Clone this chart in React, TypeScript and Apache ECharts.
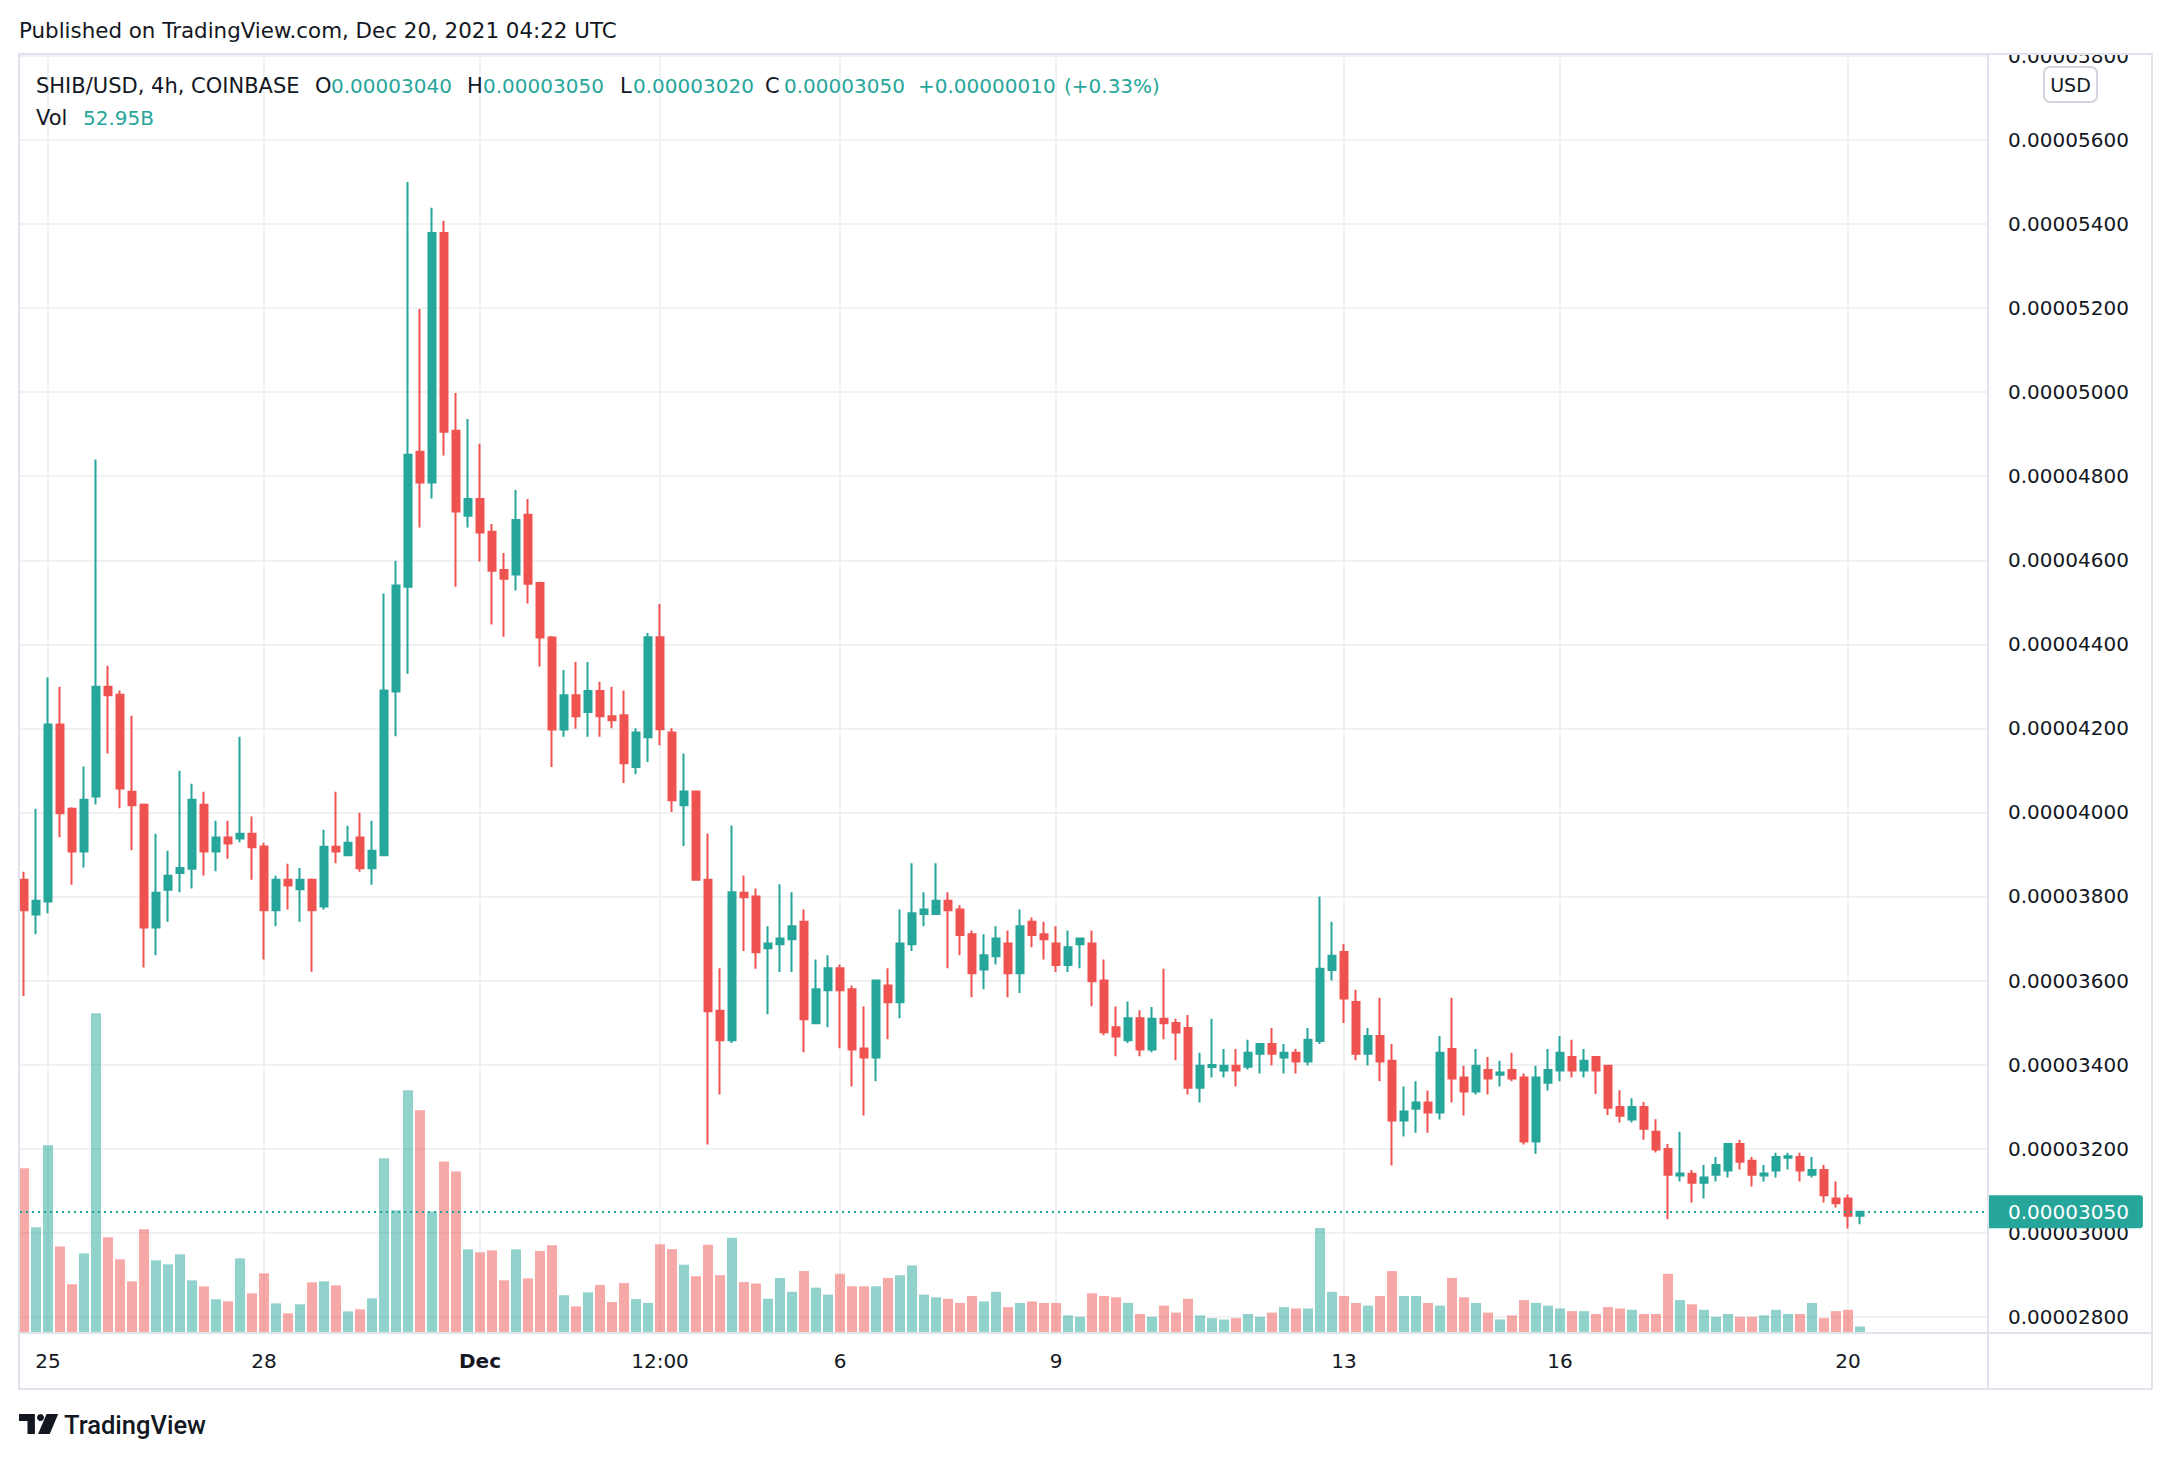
import React, { useEffect, useRef } from 'react';
import * as echarts from 'echarts';

// ---------- data (prices in units of 1e-8 USD, volume in billions) ----------
const PUBLISHED = 'Published on TradingView.com, Dec 20, 2021 04:22 UTC';
const SYMBOL = 'SHIB/USD, 4h, COINBASE';
const CURRENCY = 'USD';

const OPEN = [
  3840, 3757, 3788, 4209, 4009, 3907, 4038, 4299, 4280, 4049,
  4018, 3726, 3816, 3856, 3866, 4018, 3907, 3940, 3938, 3949,
  3919, 3767, 3840, 3817, 3840, 3776, 3918, 3898, 3940, 3867,
  3898, 4288, 4537, 4858, 4785, 5379, 4908, 4706, 4746, 4668,
  4577, 4566, 4708, 4546, 4416, 4197, 4279, 4239, 4289, 4229,
  4231, 4108, 4179, 4417, 4190, 4017, 4050, 3840, 3528, 3458,
  3809, 3800, 3677, 3686, 3698, 3740, 3498, 3577, 3629, 3579,
  3438, 3417, 3588, 3548, 3686, 3758, 3758, 3790, 3769, 3710,
  3626, 3658, 3688, 3617, 3740, 3710, 3688, 3637, 3686, 3688,
  3600, 3489, 3458, 3510, 3436, 3509, 3499, 3487, 3345, 3394,
  3386, 3397, 3395, 3426, 3449, 3417, 3428, 3407, 3456, 3625,
  3668, 3549, 3426, 3468, 3409, 3267, 3295, 3310, 3286, 3437,
  3369, 3336, 3387, 3376, 3387, 3369, 3217, 3357, 3386, 3418,
  3386, 3418, 3397, 3299, 3269, 3299, 3240, 3199, 3136, 3140,
  3119, 3138, 3148, 3211, 3171, 3136, 3148, 3178, 3180, 3138,
  3149, 3081, 3081, 3040,
];
const HIGH = [
  3859, 4009, 4321, 4299, 4012, 4109, 4840, 4349, 4290, 4230,
  4021, 3949, 3909, 4099, 4068, 4049, 3980, 3980, 4180, 3990,
  3928, 3849, 3878, 3868, 3843, 3959, 4049, 3968, 3999, 3980,
  4521, 4599, 5500, 5198, 5439, 5408, 4998, 4936, 4877, 4686,
  4617, 4767, 4746, 4549, 4420, 4339, 4358, 4358, 4311, 4299,
  4290, 4200, 4427, 4496, 4200, 4140, 4052, 3950, 3629, 3969,
  3850, 3819, 3729, 3829, 3810, 3769, 3650, 3660, 3638, 3588,
  3538, 3602, 3629, 3769, 3879, 3810, 3879, 3810, 3779, 3719,
  3710, 3729, 3719, 3769, 3750, 3740, 3729, 3719, 3702, 3719,
  3650, 3538, 3550, 3529, 3537, 3628, 3509, 3518, 3428, 3509,
  3437, 3437, 3459, 3451, 3487, 3449, 3437, 3487, 3800, 3740,
  3687, 3578, 3487, 3559, 3449, 3348, 3360, 3338, 3468, 3559,
  3397, 3437, 3418, 3409, 3428, 3379, 3397, 3437, 3468, 3459,
  3437, 3420, 3399, 3339, 3320, 3311, 3270, 3211, 3240, 3149,
  3161, 3180, 3213, 3221, 3180, 3161, 3190, 3190, 3190, 3180,
  3161, 3122, 3091, 3050,
];
const LOW = [
  3563, 3710, 3760, 3941, 3828, 3869, 4019, 4140, 4010, 3910,
  3631, 3660, 3740, 3810, 3819, 3850, 3860, 3890, 3929, 3840,
  3650, 3729, 3769, 3740, 3621, 3769, 3879, 3896, 3859, 3828,
  3896, 4181, 4330, 4678, 4747, 4849, 4537, 4678, 4597, 4447,
  4418, 4528, 4497, 4347, 4108, 4180, 4199, 4180, 4180, 4200,
  4070, 4091, 4120, 4160, 4001, 3920, 3838, 3210, 3329, 3451,
  3670, 3628, 3520, 3620, 3620, 3429, 3496, 3489, 3439, 3348,
  3279, 3360, 3460, 3510, 3670, 3729, 3756, 3629, 3660, 3560,
  3579, 3638, 3560, 3570, 3679, 3650, 3620, 3620, 3629, 3539,
  3470, 3420, 3451, 3420, 3429, 3460, 3410, 3329, 3310, 3369,
  3369, 3348, 3388, 3379, 3398, 3379, 3379, 3398, 3449, 3600,
  3499, 3410, 3398, 3360, 3160, 3229, 3238, 3238, 3269, 3310,
  3279, 3329, 3329, 3348, 3360, 3210, 3188, 3338, 3360, 3369,
  3369, 3330, 3280, 3262, 3262, 3221, 3191, 3032, 3122, 3072,
  3081, 3122, 3131, 3150, 3110, 3122, 3131, 3150, 3122, 3131,
  3072, 3060, 3010, 3020,
];
const CLOSE = [
  3767, 3790, 4209, 3998, 3907, 4030, 4299, 4279, 4057, 4017,
  3726, 3809, 3849, 3868, 4030, 3907, 3940, 3926, 3949, 3917,
  3767, 3840, 3826, 3840, 3767, 3918, 3907, 3928, 3867, 3909,
  4290, 4540, 4851, 4785, 5379, 4906, 4716, 4746, 4666, 4575,
  4556, 4696, 4544, 4416, 4197, 4279, 4229, 4289, 4229, 4219,
  4117, 4190, 4417, 4198, 4029, 4050, 3840, 3527, 3458, 3810,
  3798, 3667, 3688, 3700, 3729, 3508, 3579, 3629, 3577, 3436,
  3417, 3600, 3548, 3688, 3760, 3769, 3790, 3767, 3708, 3617,
  3660, 3700, 3617, 3729, 3708, 3698, 3637, 3679, 3700, 3598,
  3477, 3467, 3510, 3436, 3509, 3498, 3476, 3345, 3397, 3399,
  3397, 3386, 3428, 3449, 3426, 3428, 3407, 3459, 3628, 3659,
  3557, 3426, 3468, 3407, 3267, 3288, 3310, 3286, 3428, 3367,
  3336, 3397, 3367, 3381, 3367, 3217, 3369, 3387, 3428, 3386,
  3409, 3386, 3297, 3278, 3299, 3247, 3198, 3138, 3141, 3119,
  3131, 3161, 3211, 3169, 3138, 3141, 3180, 3182, 3148, 3149,
  3089, 3070, 3040, 3050,
];
const VOLUME_B = [
  1571, 1005, 1792, 822, 458, 755, 3059, 909, 698, 486,
  986, 688, 650, 746, 496, 438, 314, 294, 707, 371,
  563, 275, 179, 266, 477, 486, 448, 198, 218, 323,
  1667, 1168, 2320, 2128, 1158, 1638, 1542, 794, 765, 784,
  496, 794, 515, 777, 832, 353, 246, 381, 451, 288,
  470, 316, 279, 842, 795, 646, 535, 838, 545, 904,
  479, 466, 319, 519, 386, 585, 426, 359, 559, 439,
  439, 439, 519, 545, 638, 359, 333, 319, 279, 346,
  293, 386, 239, 279, 293, 279, 279, 160, 146, 372,
  346, 333, 279, 173, 146, 253, 186, 319, 160, 133,
  120, 133, 173, 146, 186, 239, 226, 226, 998, 386,
  346, 279, 253, 346, 585, 346, 346, 279, 253, 519,
  333, 279, 186, 120, 160, 306, 279, 253, 226, 200,
  200, 173, 239, 226, 213, 173, 173, 559, 306, 266,
  213, 146, 173, 146, 146, 160, 213, 173, 173, 279,
  133, 200, 213, 52.95,
];
const TIME_TICK_INDEX = [2, 20, 38, 53, 68, 86, 110, 128, 152];
const TIME_TICK_LABELS = ['25', '28', 'Dec', '12:00', '6', '9', '13', '16', '20'];
const PRICE_TICKS = [2800, 3000, 3200, 3400, 3600, 3800, 4000, 4200, 4400, 4600, 4800, 5000, 5200, 5400, 5600, 5800];

// ---------- style ----------
const GREEN = '#26a69a';
const RED = '#ef5350';
const GREEN_VOL = 'rgba(38,166,154,0.5)';
const RED_VOL = 'rgba(239,83,80,0.5)';
const TEXT = '#131722';
const GRID_LINE = '#f0f1f3';
const BORDER = '#e0e3eb';
const FONT = 'DejaVu Sans';

echarts.graphic.registerShape(
  'tvLogo',
  echarts.graphic.extendPath('M0 0H15V20H8V7H0Z M26 0H37L29 20H18Z', {})
);

const fmt = (v: number) => (v / 1e8).toFixed(8);

export default function App() {
  const ref = useRef<HTMLDivElement>(null);

  useEffect(() => {
    if (!ref.current) return;
    const chart = echarts.init(ref.current, null, { renderer: 'svg' });

    const n = CLOSE.length;
    const candles = CLOSE.map((c, i) => [i, OPEN[i], c, LOW[i], HIGH[i]]);
    const vols = VOLUME_B.map((v, i) => ({
      value: [i, v],
      itemStyle: { color: CLOSE[i] >= OPEN[i] ? GREEN_VOL : RED_VOL },
    }));
    const last = n - 1;
    const change = CLOSE[last] - CLOSE[last - 1];
    const pct = (change / CLOSE[last - 1]) * 100;
    const sign = change >= 0 ? '+' : '-';

    const xMin = -1 / 3;
    const xMax = 163 + 2 / 3;

    const headerText = (x: number, y: number, text: string, color: string, size = 20) => ({
      type: 'text',
      x,
      y,
      z: 120,
      style: { text, fill: color, fontSize: size, fontFamily: FONT, align: 'left', verticalAlign: 'middle' },
    });

    const option: any = {
      animation: false,
      backgroundColor: '#ffffff',
      grid: [
        { left: 20, top: 55, width: 1968, height: 1277, outerBoundsMode: 'none', containLabel: false },
        { left: 20, top: 932, width: 1968, height: 400, outerBoundsMode: 'none', containLabel: false },
      ],
      xAxis: [
        {
          type: 'value',
          gridIndex: 0,
          min: xMin,
          max: xMax,
          axisLine: { show: false },
          axisTick: { show: false, customValues: TIME_TICK_INDEX },
          splitLine: { show: true, lineStyle: { color: GRID_LINE, width: 2 } },
          axisLabel: {
            customValues: TIME_TICK_INDEX,
            margin: 19,
            fontSize: 20,
            fontFamily: FONT,
            color: TEXT,
            formatter: (v: number) => {
              const k = TIME_TICK_INDEX.indexOf(Math.round(v));
              const s = k >= 0 ? TIME_TICK_LABELS[k] : '';
              return s === 'Dec' ? '{b|Dec}' : s;
            },
            rich: { b: { fontWeight: 'bold', fontSize: 20, fontFamily: FONT, color: TEXT } },
          },
        },
        {
          type: 'value',
          gridIndex: 1,
          min: xMin,
          max: xMax,
          show: false,
          splitLine: { show: false },
        },
      ],
      yAxis: [
        {
          type: 'value',
          gridIndex: 0,
          position: 'right',
          min: 2763.6,
          max: 5802.3,
          axisLine: { show: false },
          axisTick: { show: false, customValues: PRICE_TICKS },
          splitLine: { show: true, lineStyle: { color: GRID_LINE, width: 2 } },
          axisLabel: {
            customValues: PRICE_TICKS,
            margin: 20,
            fontSize: 20,
            fontFamily: FONT,
            color: TEXT,
            align: 'left',
            formatter: (v: number) => fmt(v),
          },
        },
        {
          type: 'value',
          gridIndex: 1,
          min: 0,
          max: 3840,
          show: false,
          splitLine: { show: false },
        },
      ],
      series: [
        {
          type: 'bar',
          xAxisIndex: 1,
          yAxisIndex: 1,
          data: vols,
          barWidth: 10,
          z: 2,
          silent: true,
        },
        {
          type: 'candlestick',
          xAxisIndex: 0,
          yAxisIndex: 0,
          data: candles,
          encode: { x: 0, y: [1, 2, 3, 4] },
          barWidth: 8,
          z: 3,
          itemStyle: {
            color: GREEN,
            color0: RED,
            borderColor: GREEN,
            borderColor0: RED,
            borderWidth: 2,
          },
          markLine: {
            silent: true,
            symbol: ['none', 'none'],
            data: [{ yAxis: CLOSE[last] }],
            lineStyle: { color: GREEN, width: 2, type: [2, 4] },
            label: {
              show: true,
              position: 'end',
              distance: 0,
              formatter: () => fmt(CLOSE[last]),
              color: '#ffffff',
              fontSize: 20,
              fontFamily: FONT,
              backgroundColor: GREEN,
              padding: [7, 14, 6, 20],
              borderRadius: [0, 3, 3, 0],
            },
          },
        },
      ],
      graphic: [
        // white cover above the pane for the clipped top price label
        { type: 'rect', z: 90, shape: { x: 1989, y: 0, width: 175, height: 53 }, style: { fill: '#ffffff' } },
        // frame
        { type: 'rect', z: 100, shape: { x: 19, y: 54, width: 2133, height: 1335 }, style: { fill: 'none', stroke: BORDER, lineWidth: 2 } },
        { type: 'line', z: 100, shape: { x1: 1988, y1: 54, x2: 1988, y2: 1389 }, style: { stroke: BORDER, lineWidth: 2 } },
        { type: 'line', z: 100, shape: { x1: 19, y1: 1333, x2: 2152, y2: 1333 }, style: { stroke: BORDER, lineWidth: 2 } },
        // published line
        headerText(19, 30, PUBLISHED, TEXT, 21.4),
        // legend
        headerText(36, 86, SYMBOL, TEXT, 21),
        headerText(315, 86, 'O', TEXT, 21),
        headerText(331, 86, fmt(OPEN[last]), GREEN),
        headerText(467, 86, 'H', TEXT, 21),
        headerText(483, 86, fmt(HIGH[last]), GREEN),
        headerText(620, 86, 'L', TEXT, 21),
        headerText(633, 86, fmt(LOW[last]), GREEN),
        headerText(765, 86, 'C', TEXT, 21),
        headerText(784, 86, fmt(CLOSE[last]), GREEN),
        headerText(918, 86, sign + fmt(Math.abs(change)), GREEN),
        headerText(1064, 86, '(' + sign + Math.abs(pct).toFixed(2) + '%)', GREEN),
        headerText(36, 118, 'Vol', TEXT, 21),
        headerText(83, 118, VOLUME_B[last].toFixed(2) + 'B', GREEN),
        // currency badge
        {
          type: 'rect',
          z: 120,
          shape: { x: 2044, y: 67, width: 53, height: 35, r: 6 },
          style: { fill: '#ffffff', stroke: '#d1d4dc', lineWidth: 2 },
        },
        {
          type: 'text',
          z: 121,
          x: 2070.5,
          y: 85,
          style: { text: CURRENCY, fill: TEXT, fontSize: 19, fontFamily: FONT, align: 'center', verticalAlign: 'middle' },
        },
        // TradingView logo
        { type: 'tvLogo', z: 120, x: 19, y: 1414, scaleX: 1.06, scaleY: 1.0, style: { fill: TEXT } },
        { type: 'circle', z: 120, shape: { cx: 40.5, cy: 1417.5, r: 3.5 }, style: { fill: TEXT } },
        {
          type: 'text',
          z: 120,
          x: 64,
          y: 1425,
          style: { text: 'TradingView', fill: TEXT, fontSize: 25.5, fontFamily: 'Roboto', fontWeight: 500, align: 'left', verticalAlign: 'middle' },
        },
      ],
    };

    chart.setOption(option);
    return () => chart.dispose();
  }, []);

  return (
    <div
      ref={ref}
      style={{ position: 'fixed', left: 0, top: 0, width: 2172, height: 1460, background: '#ffffff' }}
    />
  );
}
